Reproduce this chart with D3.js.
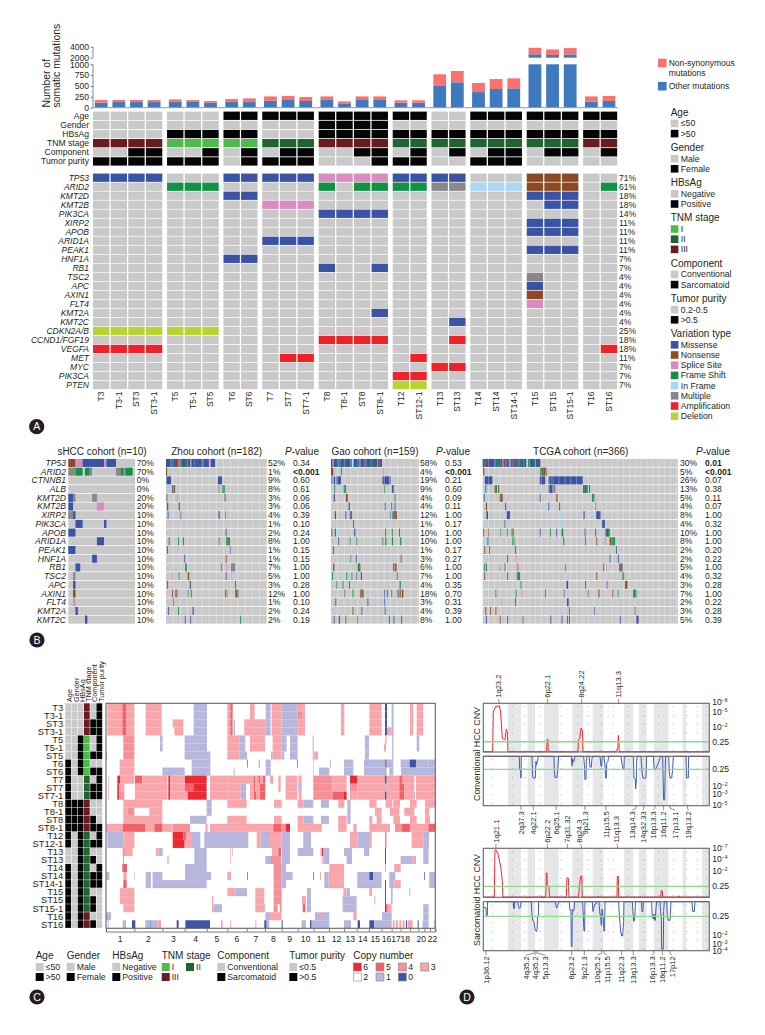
<!DOCTYPE html>
<html lang="en">

<head>
  <meta charset="UTF-8">
  <title>sHCC genomic landscape</title>
  <style>
    body { margin: 0; background: #fff; }
    text { font-family: "Liberation Sans", Arial, sans-serif; fill: #231f20; }
    .gene { font-style: italic; }
  </style>
</head>

<body>
  <script src="https://d3js.org/d3.v7.min.js"></script>
  <script>
    // ---------- panel A data ----------
    const sampleGroups = [
      ['T3', 'T3-1', 'ST3', 'ST3-1'], ['T5', 'T5-1', 'ST5'], ['T6', 'ST6'], ['T7', 'ST7', 'ST7-1'],
      ['T8', 'T8-1', 'ST8', 'ST8-1'], ['T12', 'ST12-1'], ['T13', 'ST13'], ['T14', 'ST14', 'ST14-1'],
      ['T15', 'ST15', 'ST15-1'], ['T16', 'ST16']
    ];
    const otherMutations = [115, 130, 130, 130, 130, 146, 115, 130, 130, 160, 177, 154, 192, 100, 177, 177, 115, 115, 515, 585, 360, 430, 446, 2620, 2500, 2600, 138, 154];
    const nonsynMutations = [62, 47, 47, 47, 62, 31, 39, 70, 85, 100, 93, 92, 68, 46, 83, 83, 55, 55, 255, 261, 210, 230, 231, 1180, 1000, 1150, 122, 116];
    const barTicks = [0, 250, 500, 750, 1000, 2000, 4000];

    const clinicalNames = ['Age', 'Gender', 'HBsAg', 'TNM stage', 'Component', 'Tumor purity'];
    const ageValues = '0000' + '000' + '11' + '111' + '1111' + '11' + '00' + '111' + '111' + '11';
    const genderValues = '0000' + '000' + '00' + '000' + '1111' + '00' + '00' + '000' + '000' + '00';
    const hbsagValues = '0000' + '111' + '11' + '000' + '1111' + '11' + '11' + '111' + '111' + '11';
    const tnmValues = '3333' + '111' + '11' + '222' + '3333' + '22' + '22' + '222' + '222' + '33';
    const componentValues = '0011' + '001' + '01' + '011' + '0011' + '01' + '01' + '011' + '011' + '01';
    const purityValues = '1111' + '111' + '01' + '111' + '0001' + '11' + '00' + '111' + '000' + '00';
    const clinicalValues = [ageValues, genderValues, hbsagValues, tnmValues, componentValues, purityValues];

    const geneNames = ['TP53', 'ARID2', 'KMT2D', 'KMT2B', 'PIK3CA', 'XIRP2', 'APOB', 'ARID1A', 'PEAK1', 'HNF1A', 'RB1', 'TSC2', 'APC', 'AXIN1', 'FLT4', 'KMT2A', 'KMT2C', 'CDKN2A/B', 'CCND1/FGF19', 'VEGFA', 'MET', 'MYC', 'PIK3CA', 'PTEN'];
    const genePercents = ['71%', '61%', '18%', '18%', '14%', '11%', '11%', '11%', '11%', '7%', '7%', '4%', '4%', '4%', '4%', '4%', '4%', '25%', '18%', '18%', '11%', '7%', '7%', '7%'];
    // one letter per sample: M missense, N nonsense, S splice, F frame shift, I in frame, U multiple, A amplification, D deletion
    const geneMatrix = [
      'MMMM...MMMMMSSSSMMMM...NNN..',
      '....FFF.....F.FFFFUUIIINNN.F',
      '.......MM..............MMM..',
      '.........SSS............' + 'MM..',
      '............MMMM............',
      '.......................MMM..',
      '.......................MMM..',
      '.........MMM................',
      '.......................MMM..',
      '.......MM...................',
      '............M..M............',
      '.......................U....',
      '.......................M....',
      '.......................N....',
      '.......................S....',
      '...............M............',
      '...................M........',
      'DDDDDDD.....................',
      '............AAAA...A........',
      'AAAA.......................A',
      '..........AA.....A..........',
      '..................AA........',
      '................AA..........',
      '................DD..........'
    ];

    // ---------- panel B data ----------
    const cohortGenes = ['TP53', 'ARID2', 'CTNNB1', 'ALB', 'KMT2D', 'KMT2B', 'XIRP2', 'PIK3CA', 'APOB', 'ARID1A', 'PEAK1', 'HNF1A', 'RB1', 'TSC2', 'APC', 'AXIN1', 'FLT4', 'KMT2A', 'KMT2C'];
    const shccPercents = ['70%', '70%', '0%', '0%', '20%', '20%', '10%', '10%', '10%', '10%', '10%', '10%', '10%', '10%', '10%', '10%', '10%', '10%', '10%'];
    const zhouPercents = ['52%', '1%', '9%', '8%', '3%', '3%', '4%', '1%', '2%', '8%', '1%', '1%', '7%', '5%', '3%', '12%', '1%', '2%', '2%'];
    const zhouPvalues = ['0.34', '<0.001', '0.60', '0.61', '0.06', '0.06', '0.39', '0.10', '0.24', '1.00', '0.15', '0.15', '1.00', '1.00', '0.28', '1.00', '0.10', '0.24', '0.19'];
    const gaoPercents = ['58%', '4%', '19%', '9%', '4%', '4%', '12%', '1%', '10%', '10%', '1%', '3%', '6%', '7%', '4%', '18%', '3%', '4%', '8%'];
    const gaoPvalues = ['0.53', '<0.001', '0.21', '0.60', '0.09', '0.11', '1.00', '0.17', '1.00', '1.00', '0.17', '0.27', '1.00', '1.00', '0.35', '0.70', '0.31', '0.39', '1.00'];
    const tcgaPercents = ['30%', '5%', '26%', '13%', '5%', '4%', '8%', '4%', '10%', '8%', '2%', '2%', '5%', '4%', '3%', '7%', '2%', '3%', '5%'];
    const tcgaPvalues = ['0.01', '<0.001', '0.07', '0.38', '0.11', '0.07', '1.00', '0.32', '1.00', '1.00', '0.20', '0.22', '1.00', '0.32', '0.28', '1.00', '0.22', '0.28', '0.39'];

    // mutated sample runs per gene: [first sample, number of samples, type]
    const shccRuns = [
      [[0, 3, 'N'], [3, 3, 'S'], [6, 9, 'M'], [15, 1, 'S'], [16, 4, 'M']],
      [[0, 3, 'U'], [3, 3, 'F'], [7, 2, 'F'], [9, 1, 'U'], [20, 2, 'U'], [22, 1, 'F'], [23, 1, 'U'], [24, 3, 'F']],
      [], [],
      [[0, 2, 'M'], [2, 1, 'U'], [10, 2, 'U']],
      [[0, 2, 'M'], [12, 3, 'S']],
      [[0, 2, 'U'], [2, 1, 'M']],
      [[3, 3, 'M'], [15, 1, 'M']],
      [[0, 3, 'M']],
      [[12, 3, 'M']],
      [[0, 3, 'M']],
      [[10, 2, 'M']],
      [[3, 2, 'M']],
      [[2, 1, 'U']],
      [[2, 1, 'M']],
      [[2, 1, 'N']],
      [[2, 1, 'S']],
      [[3, 1, 'M']],
      [[7, 1, 'M']]
    ];
    const zhouRuns = [
      [[0, 8, 'M'], [8, 2, 'F'], [10, 8, 'M'], [18, 2, 'N'], [20, 2, 'M'], [22, 3, 'U'], [25, 3, 'N'], [28, 8, 'M'], [36, 2, 'F'], [38, 6, 'M'], [44, 2, 'S'], [46, 10, 'M'], [56, 2, 'N'], [58, 8, 'M'], [66, 2, 'F'], [68, 10, 'M'], [78, 3, 'S'], [81, 8, 'M'], [89, 5, 'I']],
      [[0, 2, 'N']],
      [[1, 8, 'M'], [94, 7, 'M']],
      [[11, 2, 'M'], [13, 2, 'F'], [15, 2, 'N'], [17, 1, 'I'], [95, 1, 'U'], [102, 4, 'F']],
      [[1, 1, 'F'], [20, 1, 'S'], [106, 1, 'M']],
      [[2, 2, 'N'], [23, 1, 'M'], [24, 1, 'N']],
      [[3, 1, 'M'], [11, 1, 'I'], [26, 1, 'M'], [95, 2, 'M'], [107, 1, 'U']],
      [[96, 1, 'I']],
      [[27, 3, 'I'], [108, 1, 'M']],
      [[5, 1, 'M'], [22, 1, 'F'], [31, 1, 'N'], [95, 2, 'U'], [109, 2, 'F'], [111, 2, 'N'], [113, 1, 'F'], [114, 1, 'M']],
      [[2, 1, 'M'], [116, 1, 'M']],
      [[33, 1, 'M'], [108, 1, 'N']],
      [[35, 1, 'N'], [36, 1, 'F'], [100, 1, 'F'], [109, 1, 'S'], [118, 2, 'N'], [120, 2, 'U'], [122, 2, 'M']],
      [[11, 1, 'S'], [23, 1, 'F'], [38, 2, 'U'], [40, 2, 'N'], [108, 1, 'M'], [118, 1, 'S']],
      [[2, 1, 'M'], [43, 2, 'M'], [125, 1, 'N']],
      [[11, 2, 'N'], [17, 1, 'F'], [19, 1, 'N'], [25, 1, 'S'], [39, 1, 'F'], [45, 1, 'F'], [107, 2, 'N'], [110, 1, 'S'], [125, 2, 'F'], [127, 2, 'N'], [129, 2, 'F']],
      [[13, 1, 'M']],
      [[4, 1, 'M'], [22, 1, 'F'], [48, 2, 'M']],
      [[34, 1, 'M'], [44, 1, 'M'], [134, 1, 'F']]
    ];
    const gaoRuns = [
      [[0, 3, 'M'], [3, 2, 'S'], [5, 8, 'M'], [13, 2, 'F'], [15, 2, 'N'], [17, 8, 'M'], [25, 2, 'N'], [27, 8, 'M'], [35, 3, 'F'], [38, 3, 'I'], [41, 10, 'M'], [51, 3, 'U'], [54, 8, 'M'], [62, 2, 'N'], [64, 10, 'M'], [74, 2, 'F'], [76, 8, 'M'], [84, 4, 'N'], [88, 4, 'M']],
      [[0, 4, 'N'], [18, 1, 'F'], [94, 2, 'S']],
      [[1, 1, 'M'], [5, 3, 'M'], [8, 2, 'I'], [10, 8, 'M'], [93, 4, 'M'], [97, 8, 'M'], [106, 2, 'M']],
      [[6, 1, 'F'], [20, 3, 'I'], [23, 4, 'F'], [96, 1, 'F'], [110, 2, 'M'], [112, 2, 'U']],
      [[5, 2, 'M'], [27, 3, 'N'], [115, 1, 'F']],
      [[32, 2, 'M'], [97, 1, 'M'], [109, 1, 'M'], [115, 1, 'M']],
      [[7, 2, 'N'], [26, 1, 'M'], [34, 2, 'M'], [36, 2, 'N'], [107, 1, 'M'], [111, 2, 'F'], [113, 2, 'M'], [115, 2, 'N'], [117, 2, 'N']],
      [[40, 1, 'M']],
      [[1, 1, 'M'], [7, 2, 'F'], [9, 2, 'I'], [42, 2, 'M'], [98, 1, 'F'], [110, 1, 'F'], [123, 1, 'M']],
      [[13, 1, 'M'], [34, 1, 'F'], [46, 1, 'F'], [93, 1, 'F'], [98, 2, 'F'], [110, 2, 'F'], [125, 2, 'F']],
      [[4, 1, 'M']],
      [[35, 1, 'F'], [45, 1, 'M'], [100, 1, 'I'], [126, 1, 'M']],
      [[4, 2, 'N'], [48, 3, 'F'], [51, 2, 'N'], [112, 1, 'N'], [115, 2, 'N'], [117, 1, 'N']],
      [[2, 1, 'F'], [20, 1, 'I'], [28, 1, 'F'], [37, 1, 'F'], [46, 1, 'M'], [54, 2, 'N'], [119, 2, 'N']],
      [[10, 1, 'F'], [21, 1, 'F'], [33, 1, 'M'], [124, 2, 'F']],
      [[24, 1, 'N'], [39, 1, 'F'], [53, 2, 'N'], [55, 2, 'F'], [57, 2, 'N'], [96, 1, 'M'], [101, 1, 'M'], [109, 1, 'F'], [119, 4, 'U'], [124, 2, 'N'], [128, 3, 'N']],
      [[8, 1, 'M'], [66, 1, 'M'], [96, 1, 'M'], [103, 1, 'I']],
      [[39, 1, 'N'], [55, 1, 'M'], [97, 1, 'M'], [113, 4, 'I']],
      [[5, 1, 'M'], [14, 2, 'M'], [26, 1, 'F'], [47, 1, 'N'], [105, 1, 'M'], [113, 1, 'M'], [127, 1, 'M']]
    ];
    const tcgaRuns = [
      [[0, 4, 'M'], [4, 2, 'F'], [6, 4, 'N'], [10, 14, 'M'], [24, 3, 'F'], [27, 2, 'N'], [29, 8, 'M'], [37, 3, 'U'], [40, 3, 'N'], [43, 6, 'M'], [49, 3, 'S'], [52, 6, 'M'], [58, 3, 'N'], [61, 8, 'M'], [69, 3, 'F'], [72, 10, 'M'], [82, 3, 'I'], [85, 3, 'F'], [88, 8, 'M'], [96, 3, 'F'], [99, 9, 'M']],
      [[1, 2, 'M'], [108, 3, 'N'], [111, 3, 'F'], [114, 3, 'N'], [117, 4, 'U']],
      [[4, 4, 'M'], [8, 10, 'M'], [107, 10, 'M'], [123, 2, 'U'], [125, 4, 'M'], [129, 59, 'M']],
      [[0, 5, 'I'], [5, 1, 'M'], [22, 2, 'N'], [24, 3, 'F'], [27, 2, 'I'], [29, 2, 'N'], [123, 3, 'U'], [126, 5, 'M'], [131, 5, 'U'], [188, 3, 'F'], [191, 3, 'M'], [194, 3, 'F'], [197, 2, 'I'], [199, 2, 'F']],
      [[2, 1, 'M'], [6, 1, 'I'], [32, 4, 'N'], [36, 2, 'U'], [107, 1, 'M'], [138, 2, 'N'], [188, 1, 'I'], [205, 3, 'F'], [208, 1, 'M']],
      [[6, 2, 'N'], [42, 2, 'M'], [123, 1, 'M'], [143, 2, 'N'], [211, 1, 'U']],
      [[7, 3, 'M'], [22, 1, 'I'], [45, 6, 'M'], [125, 1, 'I'], [145, 1, 'I'], [189, 2, 'M'], [205, 1, 'I'], [213, 8, 'M']],
      [[3, 1, 'I'], [41, 1, 'M'], [145, 1, 'I'], [224, 5, 'M']],
      [[1, 1, 'F'], [10, 1, 'N'], [33, 1, 'F'], [45, 1, 'F'], [54, 2, 'N'], [56, 2, 'F'], [107, 1, 'M'], [126, 1, 'F'], [138, 1, 'M'], [148, 3, 'F'], [191, 1, 'M'], [211, 1, 'M'], [223, 2, 'I'], [230, 5, 'M'], [235, 3, 'F']],
      [[3, 5, 'I'], [9, 2, 'M'], [55, 1, 'F'], [58, 1, 'F'], [151, 2, 'F'], [192, 1, 'F'], [213, 1, 'N'], [229, 1, 'U'], [238, 3, 'N'], [241, 4, 'F'], [245, 3, 'F']],
      [[3, 1, 'N'], [12, 1, 'M'], [61, 1, 'M'], [250, 1, 'M']],
      [[46, 1, 'M'], [62, 1, 'S'], [207, 1, 'I'], [238, 1, 'M'], [253, 2, 'M']],
      [[3, 1, 'F'], [6, 1, 'M'], [32, 1, 'U'], [41, 1, 'F'], [65, 1, 'N'], [66, 1, 'S'], [154, 1, 'F'], [226, 1, 'F'], [231, 1, 'S'], [256, 2, 'F'], [258, 2, 'N'], [260, 2, 'M']],
      [[3, 1, 'N'], [46, 1, 'N'], [64, 2, 'N'], [66, 2, 'F'], [68, 2, 'F'], [213, 1, 'N'], [262, 3, 'F']],
      [[71, 1, 'F'], [157, 3, 'M'], [192, 1, 'M'], [232, 1, 'M'], [267, 4, 'N']],
      [[24, 1, 'F'], [62, 1, 'F'], [73, 1, 'S'], [117, 1, 'F'], [152, 1, 'M'], [197, 1, 'N'], [217, 2, 'N'], [243, 1, 'N'], [253, 1, 'F'], [282, 6, 'F']],
      [[34, 1, 'S'], [61, 1, 'M'], [158, 3, 'M']],
      [[5, 1, 'N'], [14, 1, 'N'], [24, 1, 'N'], [162, 1, 'F'], [209, 1, 'M'], [285, 1, 'M']],
      [[6, 1, 'M'], [32, 2, 'N'], [46, 1, 'M'], [75, 1, 'M'], [127, 1, 'M'], [148, 1, 'M'], [158, 1, 'M'], [162, 1, 'M'], [257, 1, 'M'], [288, 4, 'M']]
    ];

    // ---------- panel C data ----------
    const chromosomeEdges = [0, 85, 169, 236, 302, 364, 422, 477, 527, 575, 623, 669, 714, 752, 789, 827, 857, 884, 912, 937, 955, 972, 988];
    const chromosomeLabels = ['1', '2', '3', '4', '5', '6', '7', '8', '9', '10', '11', '12', '13', '14', '15', '16', '17', '18', '', '20', '', '22'];
    // per sample: [from bin, to bin, copy number]; anything not listed is copy number 2
    const copySegments = [
      [[4, 49, 3], [49, 60, 5], [60, 85, 3], [119, 167, 3], [263, 303, 1], [364, 373, 3], [373, 380, 5], [432, 446, 3], [479, 494, 1], [497, 527, 3], [527, 575, 1], [575, 597, 3], [705, 715, 3], [790, 827, 3], [837, 843, 0], [857, 863, 1], [912, 922, 3], [932, 952, 3]],
      [[4, 49, 3], [49, 60, 5], [60, 85, 3], [119, 167, 3], [263, 303, 1], [364, 373, 3], [373, 380, 5], [432, 446, 3], [479, 494, 1], [497, 527, 3], [527, 575, 1], [575, 590, 4], [590, 597, 3], [705, 715, 3], [790, 827, 3], [837, 843, 0], [857, 863, 1], [912, 922, 3], [932, 952, 3]],
      [[4, 49, 3], [49, 60, 5], [60, 85, 3], [119, 167, 3], [200, 232, 3], [263, 303, 1], [364, 373, 3], [373, 380, 5], [383, 387, 1], [415, 479, 3], [479, 494, 1], [497, 527, 3], [527, 575, 1], [575, 597, 3], [705, 715, 3], [790, 827, 3], [837, 843, 0], [857, 863, 1], [912, 922, 3], [932, 952, 3]],
      [[4, 49, 3], [49, 60, 5], [60, 85, 3], [119, 167, 3], [205, 232, 3], [263, 303, 1], [364, 373, 3], [373, 380, 5], [383, 387, 1], [415, 479, 3], [479, 494, 1], [497, 527, 3], [527, 575, 1], [575, 597, 3], [705, 715, 3], [790, 827, 3], [837, 843, 0], [843, 857, 3], [857, 863, 1], [912, 922, 3], [932, 952, 3]],
      [[52, 85, 4], [162, 170, 1], [236, 303, 1], [364, 400, 3], [400, 418, 1], [432, 477, 3], [500, 527, 3], [527, 542, 1], [552, 575, 1], [620, 623, 1], [777, 789, 1], [838, 842, 3], [858, 862, 1], [932, 940, 1]],
      [[52, 85, 4], [162, 170, 1], [236, 303, 1], [364, 400, 3], [400, 418, 1], [432, 477, 3], [500, 527, 3], [527, 542, 1], [552, 575, 1], [620, 623, 1], [777, 789, 1], [834, 840, 3], [858, 862, 1], [932, 940, 1]],
      [[0, 3, 3], [52, 85, 4], [236, 313, 1], [364, 400, 3], [400, 423, 1], [495, 500, 1], [500, 527, 3], [528, 535, 1], [552, 575, 1], [620, 623, 1], [624, 636, 3], [777, 789, 1], [858, 862, 1]],
      [[41, 85, 3], [257, 313, 1], [423, 425, 0], [458, 462, 1], [479, 494, 1], [573, 575, 0], [622, 624, 1], [672, 675, 1], [714, 742, 1], [774, 838, 1], [838, 842, 0], [842, 862, 1], [884, 911, 1], [911, 930, 0], [930, 968, 1], [968, 987, 1]],
      [[41, 85, 3], [169, 236, 1], [257, 313, 1], [383, 386, 1], [479, 494, 1], [622, 624, 1], [639, 670, 1], [714, 742, 1], [774, 842, 1], [850, 862, 1], [885, 987, 1]],
      [[6, 8, 3], [34, 42, 6], [42, 85, 3], [87, 109, 5], [109, 184, 3], [187, 193, 6], [193, 237, 3], [237, 302, 6], [312, 364, 3], [364, 432, 3], [432, 444, 3], [444, 448, 5], [448, 457, 3], [457, 462, 5], [462, 470, 3], [470, 478, 5], [492, 502, 3], [517, 524, 3], [539, 574, 3], [577, 587, 3], [622, 680, 4], [680, 722, 3], [732, 754, 6], [754, 837, 3], [837, 842, 0], [842, 880, 3], [880, 890, 5], [890, 925, 3], [930, 987, 3]],
      [[6, 8, 3], [34, 40, 6], [42, 55, 3], [87, 184, 3], [187, 193, 6], [193, 237, 3], [237, 262, 5], [262, 302, 6], [312, 364, 3], [364, 404, 3], [404, 420, 1], [432, 444, 3], [444, 448, 5], [448, 462, 3], [462, 478, 5], [517, 524, 3], [539, 574, 3], [577, 587, 1], [622, 680, 4], [680, 722, 3], [732, 754, 4], [754, 837, 3], [837, 842, 1], [842, 880, 3], [880, 895, 5], [895, 925, 3], [930, 987, 3]],
      [[6, 8, 3], [34, 40, 6], [42, 55, 4], [87, 184, 3], [187, 193, 6], [193, 245, 3], [245, 302, 6], [312, 364, 3], [364, 404, 3], [404, 420, 1], [432, 444, 3], [444, 452, 5], [452, 462, 3], [462, 478, 5], [539, 574, 3], [578, 587, 3], [622, 680, 4], [680, 712, 5], [712, 722, 6], [732, 754, 3], [754, 837, 3], [837, 842, 0], [842, 880, 3], [880, 895, 5], [895, 923, 3], [923, 927, 1], [930, 987, 3]],
      [[52, 169, 3], [302, 317, 1], [364, 422, 3], [504, 527, 3], [575, 592, 3], [592, 622, 1], [645, 669, 1], [697, 715, 3], [724, 734, 1], [790, 812, 3], [839, 859, 3], [862, 882, 3], [912, 932, 3], [957, 987, 3]],
      [[52, 65, 3], [65, 85, 4], [130, 169, 3], [302, 317, 1], [724, 734, 1], [807, 827, 3], [852, 880, 3], [895, 925, 3], [957, 970, 3]],
      [[52, 169, 3], [252, 302, 1], [364, 422, 3], [504, 527, 3], [575, 592, 3], [592, 622, 1], [645, 669, 1], [697, 722, 3], [724, 734, 1], [790, 799, 3], [812, 827, 3], [862, 882, 3], [912, 932, 3], [957, 972, 3]],
      [[0, 50, 3], [50, 117, 5], [117, 145, 3], [145, 170, 5], [170, 200, 3], [200, 252, 4], [298, 305, 3], [312, 462, 3], [462, 502, 3], [502, 527, 5], [527, 539, 4], [539, 552, 6], [575, 647, 3], [697, 722, 3], [742, 752, 3], [790, 852, 3], [867, 887, 4], [887, 912, 5], [912, 967, 3], [967, 987, 5]],
      [[4, 52, 1], [52, 85, 3], [200, 232, 6], [232, 240, 5], [240, 258, 3], [258, 283, 1], [295, 427, 1], [452, 464, 3], [464, 492, 1], [492, 527, 3], [527, 552, 1], [592, 615, 1], [732, 754, 3], [754, 789, 1], [789, 797, 3], [837, 839, 0], [839, 842, 3], [917, 952, 3], [952, 969, 1]],
      [[4, 52, 1], [52, 85, 3], [200, 236, 6], [236, 258, 3], [258, 283, 1], [295, 427, 1], [452, 464, 3], [464, 492, 1], [492, 527, 3], [527, 552, 1], [592, 615, 1], [732, 754, 3], [754, 789, 1], [789, 797, 3], [837, 839, 0], [839, 842, 3], [917, 952, 3], [952, 969, 1]],
      [[50, 52, 3], [52, 56, 5], [56, 80, 3], [150, 158, 3], [158, 170, 1], [265, 302, 1], [373, 375, 3], [378, 380, 1], [498, 517, 3], [517, 525, 5], [527, 552, 1], [575, 622, 1], [643, 648, 3], [648, 652, 6], [652, 670, 1], [714, 738, 1], [774, 790, 1], [837, 840, 0], [952, 968, 1]],
      [[52, 54, 5], [184, 188, 3], [265, 302, 1], [373, 375, 3], [478, 495, 1], [495, 525, 4], [527, 552, 1], [647, 650, 3], [652, 670, 1], [722, 738, 1], [837, 840, 0], [884, 920, 1], [920, 930, 3], [952, 968, 1]],
      [[49, 63, 5], [237, 302, 1], [503, 527, 4], [527, 540, 1], [670, 714, 3], [837, 840, 1], [865, 884, 3]],
      [[0, 10, 1], [52, 62, 3], [85, 87, 1], [119, 135, 1], [140, 169, 1], [237, 315, 1], [364, 375, 3], [423, 425, 0], [503, 527, 4], [527, 560, 1], [622, 624, 0], [642, 645, 3], [655, 668, 1], [668, 714, 3], [754, 790, 1], [790, 802, 0], [802, 827, 1], [850, 868, 1], [955, 957, 0], [970, 987, 1]],
      [[52, 62, 5], [119, 135, 1], [140, 302, 1], [503, 527, 4], [527, 540, 1], [655, 668, 1], [668, 714, 3], [754, 827, 1], [837, 840, 0], [850, 865, 1], [865, 884, 3], [970, 987, 1]],
      [[42, 85, 3], [364, 388, 3], [388, 423, 1], [448, 475, 3], [503, 527, 4], [603, 615, 1], [712, 722, 3], [722, 732, 1], [790, 798, 3], [837, 840, 0], [855, 860, 1], [910, 913, 1]],
      [[42, 85, 3], [318, 322, 3], [448, 475, 3], [503, 527, 4], [588, 600, 3], [603, 615, 1], [710, 752, 1], [805, 808, 3], [837, 840, 0], [855, 860, 1]],
      [[52, 85, 3], [318, 322, 3], [322, 348, 1], [448, 475, 3], [475, 478, 1], [503, 515, 4], [522, 527, 4], [590, 595, 5], [595, 598, 6], [603, 615, 1], [710, 752, 1], [837, 840, 0], [840, 845, 5], [845, 857, 3], [952, 968, 1]],
      [[0, 15, 1], [478, 492, 1], [492, 527, 3], [627, 642, 1], [642, 645, 3], [645, 670, 1], [742, 752, 3], [828, 857, 1], [952, 968, 1]],
      [[5, 8, 1], [50, 60, 1], [78, 88, 0], [118, 132, 1], [132, 134, 0], [134, 155, 1], [155, 165, 3], [212, 218, 0], [238, 312, 0], [345, 350, 3], [373, 376, 3], [448, 451, 3], [475, 482, 0], [482, 490, 1], [527, 530, 0], [587, 600, 1], [612, 617, 0], [617, 670, 1], [714, 735, 1], [755, 762, 0], [790, 805, 0], [805, 857, 1], [860, 866, 3], [870, 876, 3], [880, 886, 3], [890, 896, 3], [900, 903, 0], [905, 920, 3], [935, 938, 0], [950, 968, 1], [985, 988, 3]]
    ];

    // ---------- panel D data ----------
    const cnvBands = [[74, 113], [133, 155], [182, 226], [267, 300], [328, 360], [422, 450], [467, 490], [512, 555], [598, 608], [656, 678]];
    const cnvDots = [28, 87, 125, 170, 233, 283, 315, 353, 390, 435, 480, 525, 570, 610, 643, 670];
    // line points: [genome position, signal]
    const convAmpLine = [[0, 0.5], [28, 0.5], [30, 82], [36, 93], [48, 95], [52, 82], [57, 28], [65, 25], [69, 47], [72, 42], [74, 0.5], [130, 0.5], [133, 2], [134, 0.5], [188, 0.5], [190, 5], [192, 26], [194, 26], [194.5, 0.5], [284, 0.5], [285, 24], [290, 30], [293, 49], [296, 46], [298, 42], [299, 0.5], [396, 0.5], [400, 2], [404, 10], [405, 34], [407, 20], [407.5, 0.5], [678, 0.5]];
    const convDelLine = [[0, 0], [108, 0], [109, 28], [112, 28], [113, 44], [114, 0], [146, 0], [148, 40], [150, 44], [156, 44], [158, 10], [160, 18], [162, 10], [164, 5], [165, 0], [212, 0], [213, 30], [215, 43], [221, 43], [224, 20], [226, 0], [264, 0], [266, 20], [268, 5], [270, 12], [272, 10], [275, 0], [301, 0], [303, 15], [305, 47], [308, 47], [309, 10], [311, 0], [318, 0], [320, 22], [324, 22], [326, 5], [328, 0], [350, 0], [353, 20], [355, 20], [357, 0], [362, 0], [365, 18], [367, 44], [369, 44], [370, 15], [374, 10], [376, 0], [413, 0], [416, 15], [420, 26], [422, 26], [423, 0], [450, 0], [452, 44], [456, 46], [457, 66], [459, 50], [460, 10], [462, 0], [473, 0], [476, 30], [479, 44], [488, 44], [490, 0], [510, 0], [513, 28], [518, 25], [524, 15], [530, 5], [531, 0], [538, 0], [540, 60], [541, 88], [544, 88], [546, 20], [547, 0], [556, 0], [558, 30], [560, 44], [565, 44], [568, 28], [570, 0], [608, 0], [610, 44], [615, 44], [616, 0], [678, 0]];
    const sarcAmpLine = [[0, 0.5], [33, 0.5], [35, 96], [38, 97], [40, 92], [43, 92], [48, 76], [53, 59], [57, 32], [59, 0.5], [174, 0.5], [175, 3], [176, 0.5], [186, 0.5], [188, 8], [189, 50], [191, 49], [192, 25], [195, 22], [197, 22], [199, 0.5], [249, 0.5], [251, 40], [255, 39], [257, 0.5], [284, 0.5], [286, 3], [288, 20], [292, 43], [296, 43], [296.5, 0.5], [340, 0.5], [342, 2], [345, 2], [346, 0.5], [401, 0.5], [402, 43], [405, 43], [406, 0.5], [532, 0.5], [534, 14], [537, 13], [538, 0.5], [585, 0.5], [586, 3], [589, 2], [590, 0.5], [678, 0.5]];
    const sarcDelLine = [[0, 12], [8, 12], [9, 28], [12, 28], [13, 0], [90, 0], [91, 14], [93, 14], [94, 0], [103, 0], [105, 8], [108, 14], [112, 12], [113, 0], [144, 0], [146, 25], [148, 38], [152, 40], [155, 55], [158, 60], [161, 60], [163, 30], [165, 30], [166, 0], [215, 0], [217, 5], [220, 13], [223, 8], [226, 0], [258, 0], [260, 17], [263, 17], [264, 92], [266, 92], [267, 15], [270, 18], [272, 18], [274, 0], [298, 0], [300, 30], [302, 60], [304, 60], [305, 0], [327, 0], [329, 20], [331, 14], [335, 5], [338, 5], [339, 0], [347, 0], [350, 25], [352, 30], [354, 48], [355, 48], [356, 15], [360, 33], [362, 60], [364, 60], [365, 0], [406, 0], [408, 25], [412, 60], [415, 70], [418, 70], [421, 40], [422, 0], [447, 0], [449, 20], [451, 40], [454, 38], [456, 10], [457, 0], [475, 0], [476, 20], [479, 20], [480, 0], [505, 0], [507, 33], [510, 35], [512, 25], [514, 38], [516, 38], [518, 15], [520, 0], [530, 0], [532, 20], [534, 30], [535, 97], [540, 97], [541, 20], [543, 0], [550, 0], [552, 28], [555, 38], [560, 38], [562, 15], [563, 0], [626, 0], [628, 20], [633, 20], [635, 0], [678, 0]];
    const convAmpTicks = [[102, '-8'], [82, '-5'], [51, '-2'], [21, '0.25']];
    const convDelTicks = [[26.4, '0.25'], [61, '-2'], [77, '-3'], [99, '-5']];
    const sarcAmpTicks = [[101, '-7'], [78, '-4'], [53, '-2'], [22.4, '0.25']];
    const sarcDelTicks = [[30, '0.25'], [68, '-2'], [86, '-3'], [101, '-4']];
    // cytoband labels: [name, tick position, label position]
    const convAmpBands = [['1q23.2', 47, 45], ['6p22.1', 193, 193], ['8q24.22', 295, 294], ['11q13.3', 406, 405]];
    const convDelBands = [['2q37.3', 113, 113], ['4q22.1', 150, 150], ['6q25.1', 218, 218], ['9p21.3', 305, 305], ['11p15.5', 368, 368], ['13q14.3', 458, 447], ['14q32.33', 482, 480], ['16p13.3', 515, 510], ['16q11.2', 541, 541], ['17p13.1', 560, 575], ['19q13.2', 613, 615]];
    const sarcAmpBands = [['1q21.1', 38, 38], ['6p22.2', 192, 192], ['7q31.32', 252, 252], ['8q24.3', 294, 288], ['11q13.3', 403, 400]];
    const sarcDelBands = [['1p36.12', 8, 8], ['4q35.2', 153, 128], ['4q35.2', 158, 155], ['5p13.3', 162, 187], ['8p23.2', 265, 265], ['9p21.3', 303, 303], ['10q25.2', 355, 342], ['11p15.5', 362, 372], ['11q22.3', 415, 415], ['13q13.3', 450, 450], ['16p13.3', 512, 506], ['16q11.2', 537, 537], ['17p12', 560, 567]];

    // ---------- colours ----------
    const GREY = '#c9c9c9', BLACK = '#050505';
    const typeColor = { M: '#3a53a4', N: '#8b4a24', S: '#d98cc0', F: '#0f9246', I: '#a9d8f2', U: '#888888', A: '#ee2229', D: '#b8d432' };
    const tnmColor = { 1: '#4dbb4a', 2: '#1f6530', 3: '#6a1a20' };
    const copyColor = { 6: '#ec2a34', 5: '#f0626a', 4: '#f69098', 3: '#f9a5ac', 2: '#ffffff', 1: '#b7b6dc', 0: '#3f54a6' };
    const clinicalColor = (row, v) => row === 3 ? tnmColor[v] : (v === '1' ? BLACK : GREY);

    const svg = d3.select('body').append('svg').attr('width', 765).attr('height', 1035);
    const label = (x, y, str, size, anchor) => svg.append('text').attr('x', x).attr('y', y).attr('dy', '0.35em')
      .attr('font-size', size).attr('text-anchor', anchor || 'start').text(str);
    const vlabel = (x, y, str, size, anchor) => svg.append('text').attr('transform', `translate(${x},${y}) rotate(-90)`).attr('dy', '0.35em')
      .attr('font-size', size).attr('text-anchor', anchor || 'start').text(str);

    // ---------- panel A ----------
    const samples = [];
    sampleGroups.forEach((g, gi) => g.forEach(name => samples.push({ name, slot: samples.length + gi * 0.2 })));
    const xA = d3.scaleLinear().domain([0, 29.8]).range([93, 618.4]);
    const cellW = xA(0.93) - xA(0);
    const yBar = d3.scaleLinear().domain([0, 1000, 2000, 4000]).range([107.7, 64.3, 57.7, 46.7]);

    samples.forEach((s, i) => {
      const bx = xA(s.slot + 0.93 / 2) - 6.4;
      const other = otherMutations[i], nonsyn = nonsynMutations[i];
      svg.append('rect').attr('x', bx).attr('width', 12.8).attr('y', yBar(other)).attr('height', yBar(0) - yBar(other)).attr('fill', '#3f7abf');
      svg.append('rect').attr('x', bx).attr('width', 12.8).attr('y', yBar(other + nonsyn)).attr('height', yBar(other) - yBar(other + nonsyn)).attr('fill', '#f8736f');
    });
    // axis break
    svg.append('rect').attr('x', 90).attr('width', 530).attr('y', yBar(2000)).attr('height', yBar(1000) - yBar(2000)).attr('fill', '#fff');
    const axisA = svg.append('g').attr('transform', 'translate(93,0)')
      .call(d3.axisLeft(yBar).tickValues(barTicks).tickSize(2.5).tickPadding(1.5).tickFormat(d3.format('d')));
    axisA.select('.domain').remove();
    axisA.selectAll('text').attr('font-size', 8.6).style('font-family', '"Liberation Sans"');
    axisA.selectAll('line').attr('stroke', '#555').attr('stroke-width', 0.7);
    [[0, 1000], [2000, 4000]].forEach(r => svg.append('line').attr('x1', 93).attr('x2', 93).attr('y1', yBar(r[0])).attr('y2', yBar(r[1])).attr('stroke', '#555').attr('stroke-width', 0.7));
    svg.append('line').attr('x1', 93).attr('x2', 618).attr('y1', yBar(0)).attr('y2', yBar(0)).attr('stroke', '#9a9a9a').attr('stroke-width', 1);
    vlabel(46, 107.5, 'Number of', 10.4);
    vlabel(56.7, 107.5, 'somatic mutations', 10.4);

    const yClinical = d3.scaleBand().domain(clinicalNames).range([111.2, 166]);
    clinicalNames.forEach((n, r) => {
      label(89, yClinical(n) + yClinical.bandwidth() / 2, n, 8.6, 'end');
      samples.forEach((s, i) => svg.append('rect').attr('x', xA(s.slot)).attr('width', cellW)
        .attr('y', yClinical(n) + 0.4).attr('height', yClinical.bandwidth() - 0.8).attr('fill', clinicalColor(r, clinicalValues[r][i])));
    });

    const yGene = d3.scaleBand().domain(d3.range(geneNames.length)).range([173.2, 389.5]);
    geneNames.forEach((g, r) => {
      const cy = yGene(r) + yGene.bandwidth() / 2;
      label(89, cy, g, 8.5, 'end').attr('class', 'gene');
      label(619, cy, genePercents[r], 8.5);
      samples.forEach((s, i) => {
        const t = geneMatrix[r][i];
        svg.append('rect').attr('x', xA(s.slot)).attr('width', cellW)
          .attr('y', yGene(r) + 0.35).attr('height', yGene.bandwidth() - 0.7).attr('fill', typeColor[t] || GREY);
      });
    });
    samples.forEach(s => vlabel(xA(s.slot + 0.93 / 2), 391.5, s.name, 8.5, 'end'));

    // legends on the right of panel A
    const patch = (x, y, fill, size) => svg.append('rect').attr('x', x).attr('y', y - (size || 7.6) / 2)
      .attr('width', size || 7.6).attr('height', size || 7.6).attr('fill', fill);
    patch(658, 63, '#f8736f', 8.6);
    label(668.7, 63.3, 'Non-synonymous', 8.5);
    label(668.7, 72.7, 'mutations', 8.5);
    patch(658, 86.2, '#3f7abf', 8.6);
    label(668.7, 86, 'Other mutations', 8.5);

    const legendBlocks = [
      ['Age', [['≤50', GREY], ['>50', BLACK]]],
      ['Gender', [['Male', GREY], ['Female', BLACK]]],
      ['HBsAg', [['Negative', GREY], ['Positive', BLACK]]],
      ['TNM stage', [['I', tnmColor[1]], ['II', tnmColor[2]], ['III', tnmColor[3]]]],
      ['Component', [['Conventional', GREY], ['Sarcomatoid', BLACK]]],
      ['Tumor purity', [['0.2-0.5', GREY], ['>0.5', BLACK]]],
      ['Variation type', [['Missense', typeColor.M], ['Nonsense', typeColor.N], ['Splice Site', typeColor.S], ['Frame Shift', typeColor.F], ['In Frame', typeColor.I], ['Multiple', typeColor.U], ['Amplification', typeColor.A], ['Deletion', typeColor.D]]]
    ];
    let ly = 112;
    legendBlocks.forEach(b => {
      label(670.7, ly, b[0], 10);
      ly += 11.4;
      b[1].forEach(e => {
        patch(670.8, ly, e[1]);
        label(680.8, ly, e[0], 8.7);
        ly += 10.2;
      });
      ly += 3.4;
    });

    // ---------- panel letters ----------
    [['A', 36.7, 426.7], ['B', 37, 640], ['C', 37, 997], ['D', 467, 997]].forEach(d => {
      svg.append('circle').attr('cx', d[1]).attr('cy', d[2]).attr('r', 7.6).attr('fill', '#231f20');
      label(d[1], d[2], d[0], 10.5, 'middle').style('fill', '#fff');
    });

    // ---------- panel B ----------
    const yCohort = d3.scaleBand().domain(d3.range(cohortGenes.length)).range([458.6, 624]);
    const cohortCenter = r => yCohort(r) + yCohort.bandwidth() / 2;
    cohortGenes.forEach((g, r) => label(66, cohortCenter(r), g, 8.6, 'end').attr('class', 'gene'));
    const pvalueTitle = (x) => {
      const t = label(x, 451.7, '', 10, 'middle');
      t.append('tspan').attr('font-style', 'italic').text('P');
      t.append('tspan').text('-value');
    };
    const cohorts = [
      { title: 'sHCC cohort (n=10)', titleX: 102, n: 28, range: [68.3, 135], runs: shccRuns, pct: shccPercents, pctX: 136.8, grid: 0 },
      { title: 'Zhou cohort (n=182)', titleX: 216.7, n: 182, range: [166, 266.7], runs: zhouRuns, pct: zhouPercents, pctX: 268, pv: zhouPvalues, pvX: 293, pvTitle: 302, grid: 13 },
      { title: 'Gao cohort (n=159)', titleX: 375, n: 159, range: [331, 419], runs: gaoRuns, pct: gaoPercents, pctX: 420, pv: gaoPvalues, pvX: 445, pvTitle: 453, grid: 12 },
      { title: 'TCGA cohort (n=366)', titleX: 580.7, n: 366, range: [482.7, 678], runs: tcgaRuns, pct: tcgaPercents, pctX: 680, pv: tcgaPvalues, pvX: 705, pvTitle: 713, grid: 11 }
    ];
    cohorts.forEach(c => {
      const x = d3.scaleLinear().domain([0, c.n]).range(c.range);
      label(c.titleX, 451.7, c.title, 10, 'middle');
      if (c.pv) pvalueTitle(c.pvTitle);
      cohortGenes.forEach((g, r) => {
        svg.append('rect').attr('x', x(0)).attr('width', x(c.n) - x(0)).attr('y', yCohort(r) + 0.35)
          .attr('height', yCohort.bandwidth() - 0.7).attr('fill', GREY);
        c.runs[r].forEach(run => svg.append('rect').attr('x', x(run[0])).attr('width', Math.max(x(run[0] + run[1]) - x(run[0]), 0.8))
          .attr('y', yCohort(r) + 0.35).attr('height', yCohort.bandwidth() - 0.7).attr('fill', typeColor[run[2]]));
        label(c.pctX, cohortCenter(r), c.pct[r], 8.6);
        if (c.pv) {
          const p = label(c.pvX, cohortCenter(r), c.pv[r], 8.6);
          if (c.pv[r] === '<0.001' || c.pv[r] === '0.01') p.attr('font-weight', 'bold');
        }
      });
      if (c.grid) d3.range(c.grid, c.n, c.grid).forEach(s => svg.append('line').attr('x1', x(s)).attr('x2', x(s))
        .attr('y1', yCohort.range()[0]).attr('y2', yCohort.range()[1]).attr('stroke', '#fff').attr('stroke-opacity', 0.4).attr('stroke-width', 0.7));
    });

    // ---------- panel C ----------
    const xHeat = d3.scaleLinear().domain([0, 988]).range([106, 435.3]);
    const yHeat = d3.scaleBand().domain(samples.map(s => s.name)).range([703.3, 928.3]);
    const xStrip = d3.scaleBand().domain(clinicalNames).range([65.3, 102.7]);
    samples.forEach((s, i) => {
      label(63.3, yHeat(s.name) + yHeat.bandwidth() / 2, s.name, 9.4, 'end');
      clinicalNames.forEach((n, r) => svg.append('rect').attr('x', xStrip(n)).attr('width', xStrip.bandwidth() - 0.5)
        .attr('y', yHeat(s.name)).attr('height', yHeat.bandwidth() - 0.4).attr('fill', clinicalColor(r, clinicalValues[r][i])));
      copySegments[i].forEach(seg => svg.append('rect').attr('x', xHeat(seg[0])).attr('width', xHeat(seg[1]) - xHeat(seg[0]))
        .attr('y', yHeat(s.name)).attr('height', yHeat.bandwidth()).attr('fill', copyColor[seg[2]]));
    });
    clinicalNames.forEach(n => vlabel(xStrip(n) + xStrip.bandwidth() / 2 + 1.5, 702, n, 7.3));
    svg.append('rect').attr('x', 106).attr('y', 703.3).attr('width', 329.3).attr('height', 225).attr('fill', 'none').attr('stroke', '#666').attr('stroke-width', 1.1);
    const axisC = svg.append('g').attr('transform', 'translate(0,931.5)')
      .call(d3.axisTop(xHeat).tickValues(chromosomeEdges).tickSize(2.5).tickFormat(''));
    axisC.selectAll('path,line').attr('stroke', '#444').attr('stroke-width', 0.7);
    chromosomeLabels.forEach((c, i) => label(xHeat((chromosomeEdges[i] + chromosomeEdges[i + 1]) / 2), 938.5, c, 8.6, 'middle'));

    const bottomLegends = [
      ['Age', 35.7, [['≤50', 35.7, 0, GREY], ['>50', 35.7, 1, BLACK]]],
      ['Gender', 66.7, [['Male', 66.7, 0, GREY], ['Female', 66.7, 1, BLACK]]],
      ['HBsAg', 112.3, [['Negative', 112.3, 0, GREY], ['Positive', 112.3, 1, BLACK]]],
      ['TNM stage', 161.7, [['I', 161.7, 0, tnmColor[1]], ['II', 186, 0, tnmColor[2]], ['III', 161.7, 1, tnmColor[3]]]],
      ['Component', 217.3, [['Conventional', 217.3, 0, GREY], ['Sarcomatoid', 217.3, 1, BLACK]]],
      ['Tumor purity', 289.3, [['≤0.5', 289.3, 0, GREY], ['>0.5', 289.3, 1, BLACK]]],
      ['Copy number', 353.3, [['6', 353.3, 0, copyColor[6]], ['5', 376, 0, copyColor[5]], ['4', 398.3, 0, copyColor[4]], ['3', 420.7, 0, copyColor[3]], ['2', 353.3, 1, copyColor[2]], ['1', 376, 1, copyColor[1]], ['0', 398.3, 1, copyColor[0]]]]
    ];
    bottomLegends.forEach(b => {
      label(b[1], 955.3, b[0], 10);
      b[2].forEach(e => {
        const cy = 967 + e[2] * 10;
        const p = patch(e[1], cy, e[3], 8);
        if (b[0] === 'Copy number') p.attr('stroke', '#888').attr('stroke-width', 0.6);
        label(e[1] + 10, cy, e[0], 8.7);
      });
    });

    // ---------- panel D ----------
    const xCnv = d3.scaleLinear().domain([0, 678]).range([483.3, 709.3]);
    const cnvTracks = [
      { line: convAmpLine, ticks: convAmpTicks, bands: convAmpBands, top: 703.3, bottom: 752, up: true },
      { line: convDelLine, ticks: convDelTicks, bands: convDelBands, top: 756.3, bottom: 805.7, up: false },
      { line: sarcAmpLine, ticks: sarcAmpTicks, bands: sarcAmpBands, top: 848.3, bottom: 897.3, up: true },
      { line: sarcDelLine, ticks: sarcDelTicks, bands: sarcDelBands, top: 901.7, bottom: 950.7, up: false }
    ];
    cnvTracks.forEach(t => {
      const y = d3.scaleLinear().domain([0, 100]).range(t.up ? [t.bottom, t.top] : [t.top, t.bottom]);
      svg.append('g').selectAll('rect').data(cnvBands).enter().append('rect')
        .attr('x', d => xCnv(d[0])).attr('width', d => xCnv(d[1]) - xCnv(d[0]))
        .attr('y', t.top).attr('height', t.bottom - t.top).attr('fill', '#e4e6e8');
      svg.append('g').selectAll('line').data(cnvDots).enter().append('line')
        .attr('x1', d => xCnv(d)).attr('x2', d => xCnv(d)).attr('y1', t.top + 3).attr('y2', t.bottom)
        .attr('stroke', '#777').attr('stroke-width', 0.7).attr('stroke-dasharray', '0.8,8');
      svg.append('path').datum(t.line)
        .attr('d', d3.line().x(d => xCnv(d[0])).y(d => y(d[1])))
        .attr('fill', 'none').attr('stroke', t.up ? '#ee2a34' : '#3f5fb0').attr('stroke-width', 1);
      const green = t.ticks.find(d => d[1] === '0.25')[0];
      svg.append('line').attr('x1', xCnv(0)).attr('x2', xCnv(678)).attr('y1', y(green)).attr('y2', y(green))
        .attr('stroke', '#8fd98a').attr('stroke-width', 1.3);
      svg.append('rect').attr('x', xCnv(0)).attr('y', t.top).attr('width', xCnv(678) - xCnv(0)).attr('height', t.bottom - t.top)
        .attr('fill', 'none').attr('stroke', '#666').attr('stroke-width', 1.1);
      t.ticks.forEach(d => {
        const txt = label(712.3, y(d[0]), '', 8.6);
        if (d[1] === '0.25') txt.text('0.25');
        else {
          txt.append('tspan').text('10');
          txt.append('tspan').attr('font-size', 5).attr('dy', -3).text(d[1].replace('-', '\u2212'));
        }
      });
      t.bands.forEach(b => {
        const y0 = t.up ? t.top : t.bottom, dir = t.up ? -1 : 1;
        svg.append('path').attr('d', d3.line()([[xCnv(b[1]), y0], [xCnv(b[1]), y0 + dir * 2.5], [xCnv(b[2]), y0 + dir * 4.5]]))
          .attr('fill', 'none').attr('stroke', '#444').attr('stroke-width', 0.6);
        vlabel(xCnv(b[2]), y0 + dir * 5.5, b[0], 7.6, t.up ? 'start' : 'end');
      });
    });
    vlabel(476.5, 754, 'Conventional HCC CNV', 8.8, 'middle');
    vlabel(476.5, 900, 'Sarcomatoid HCC CNV', 8.8, 'middle');
  </script>
</body>

</html>
